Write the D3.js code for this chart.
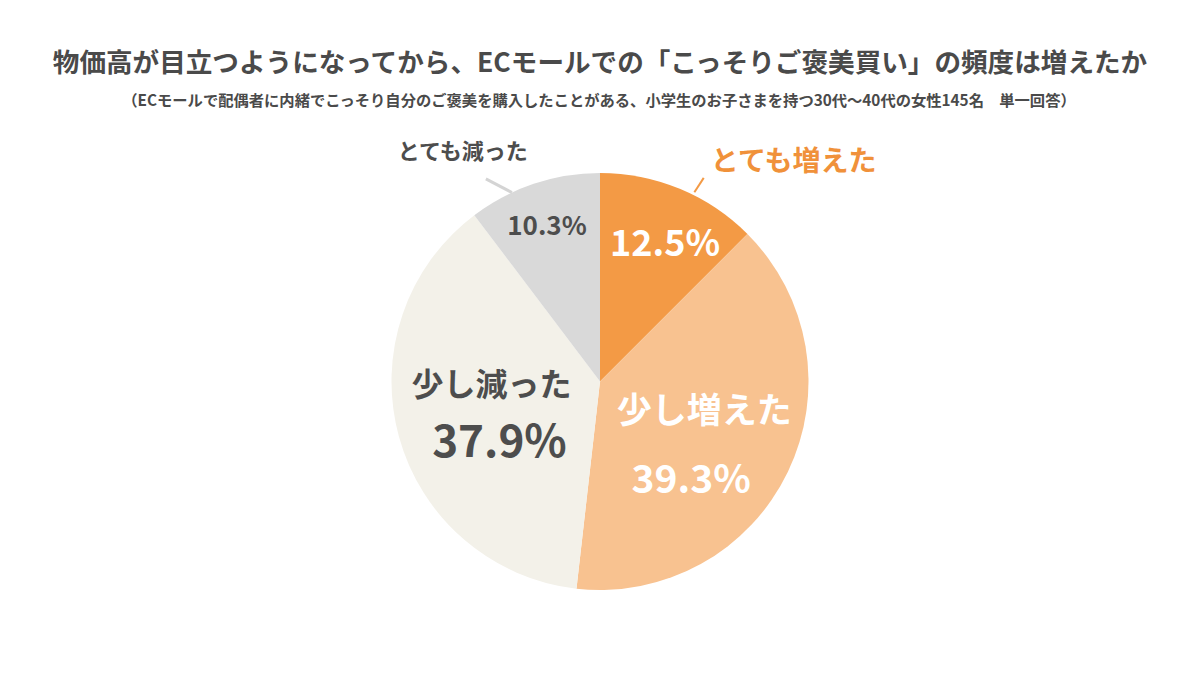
<!DOCTYPE html>
<html>
<head>
  <meta charset="utf-8">
  <script src="https://d3js.org/d3.v7.min.js"></script>
  <style>
    body { margin: 0; background: #fff; }
    text { font-family: "Noto Sans CJK JP", "Noto Sans", sans-serif; font-weight: 700; }
  </style>
</head>
<body>
<script>
  // data
  var categories = ["とても増えた", "少し増えた", "少し減った", "とても減った"];
  var values = [12.5, 39.3, 37.9, 10.3];
  var colors = ["#F39A45", "#F8C290", "#F3F1E9", "#D9D9D9"];

  var title = "物価高が目立つようになってから、ECモールでの「こっそりご褒美買い」の頻度は増えたか";
  var subtitle = "（ECモールで配偶者に内緒でこっそり自分のご褒美を購入したことがある、小学生のお子さまを持つ30代〜40代の女性145名　単一回答）";

  var width = 1200, height = 675;
  var cx = 600, cy = 381.5, r = 208.5;

  var svg = d3.select("body").append("svg")
    .attr("width", width)
    .attr("height", height);

  /* titles */
  svg.append("text")
    .attr("x", width / 2)
    .attr("y", 60)
    .attr("text-anchor", "middle")
    .attr("dominant-baseline", "central")
    .style("font-size", "26.6px")
    .style("fill", "#4a4a4a")
    .text(title);

  svg.append("text")
    .attr("x", 599)
    .attr("y", 99)
    .attr("text-anchor", "middle")
    .attr("dominant-baseline", "central")
    .style("font-size", "15.3px")
    .style("fill", "#4a4a4a")
    .text(subtitle);

  /* pie */
  var pie = d3.pie().sort(null).value(function(d) { return d; });
  var arcs = pie(values);
  var arc = d3.arc().innerRadius(0).outerRadius(r);

  var g = svg.append("g").attr("transform", "translate(" + cx + "," + cy + ")");

  g.selectAll("path.slice")
    .data(arcs)
    .enter().append("path")
    .attr("class", "slice")
    .attr("d", arc)
    .attr("fill", function(d, i) { return colors[i]; });

  // point at given angle (radians, clockwise from top) and radius
  function pt(a, rad) { return [Math.sin(a) * rad, -Math.cos(a) * rad]; }
  function mid(d) { return (d.startAngle + d.endAngle) / 2; }
  var deg = Math.PI / 180;
  var fmt = function(v) { return d3.format(".1f")(v) + "%"; };

  /* inside labels */
  // slice 0: とても増えた - only the percent inside
  var p0 = pt(mid(arcs[0]) + 0.04, r * 0.745);
  g.append("text")
    .attr("x", p0[0]).attr("y", p0[1])
    .attr("text-anchor", "middle").attr("dominant-baseline", "central")
    .style("font-size", "36px").style("fill", "#fff")
    .text(fmt(values[0]));

  // slice 1: 少し増えた
  var p1 = pt(mid(arcs[1]) + 0.11, r * 0.55);
  g.append("text")
    .attr("x", p1[0] + 7).attr("y", p1[1] - 35)
    .attr("text-anchor", "middle").attr("dominant-baseline", "central")
    .style("font-size", "35px").style("fill", "#fff")
    .text(categories[1]);
  g.append("text")
    .attr("x", p1[0] - 6).attr("y", p1[1] + 34)
    .attr("text-anchor", "middle").attr("dominant-baseline", "central")
    .style("font-size", "39px").style("fill", "#fff")
    .text(fmt(values[1]));

  // slice 2: 少し減った
  var p2 = pt(mid(arcs[2]), r * 0.52);
  g.append("text")
    .attr("x", p2[0] - 4).attr("y", p2[1] - 28)
    .attr("text-anchor", "middle").attr("dominant-baseline", "central")
    .style("font-size", "32px").style("fill", "#4d4d4d")
    .text(categories[2]);
  g.append("text")
    .attr("x", p2[0] + 4).attr("y", p2[1] + 28)
    .attr("text-anchor", "middle").attr("dominant-baseline", "central")
    .style("font-size", "44px").style("fill", "#4d4d4d")
    .text(fmt(values[2]));

  // slice 3: とても減った - percent inside
  var p3 = pt(mid(arcs[3]), r * 0.8);
  g.append("text")
    .attr("x", p3[0]).attr("y", p3[1])
    .attr("text-anchor", "middle").attr("dominant-baseline", "central")
    .style("font-size", "26px").style("fill", "#4d4d4d")
    .text(fmt(values[3]));

  /* outside labels with leader lines */
  var l0a = pt(26.5 * deg, r + 3), l0b = pt(27 * deg, r + 20);
  g.append("line")
    .attr("x1", l0a[0]).attr("y1", l0a[1]).attr("x2", l0b[0]).attr("y2", l0b[1])
    .style("stroke", "#F39A45").style("stroke-width", 2);
  g.append("text")
    .attr("x", l0b[0] + 7).attr("y", l0b[1] - 19)
    .attr("text-anchor", "start").attr("dominant-baseline", "central")
    .style("font-size", "28px").style("fill", "#F0913A")
    .text(categories[0]);

  var l3a = pt(335 * deg, r), l3b = pt(330.6 * deg, r + 24);
  g.append("line")
    .attr("x1", l3a[0]).attr("y1", l3a[1]).attr("x2", l3b[0]).attr("y2", l3b[1])
    .style("stroke", "#D4D4D4").style("stroke-width", 3);
  g.append("text")
    .attr("x", l3b[0] + 42).attr("y", l3b[1] - 30)
    .attr("text-anchor", "end").attr("dominant-baseline", "central")
    .style("font-size", "22px").style("fill", "#4d4d4d")
    .text(categories[3]);
</script>
</body>
</html>
